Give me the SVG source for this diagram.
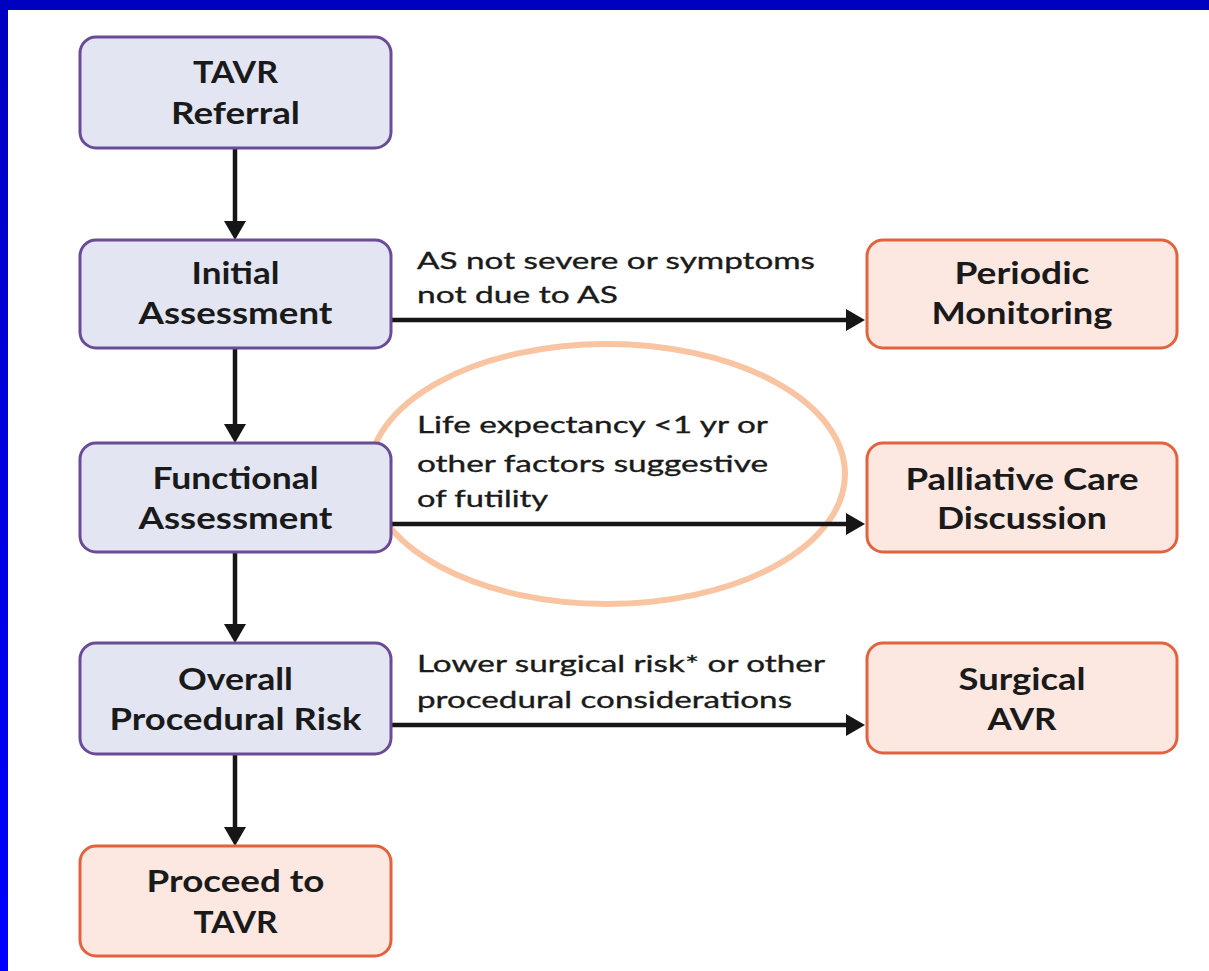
<svg xmlns="http://www.w3.org/2000/svg" width="1209" height="971" viewBox="0 0 1209 971">
<defs>
<linearGradient id="lb" x1="0" y1="0" x2="0" y2="1">
<stop offset="0" stop-color="#0000C0"/>
<stop offset="1" stop-color="#0000FF"/>
</linearGradient>
<marker id="ah" markerUnits="userSpaceOnUse" markerWidth="19" markerHeight="22" refX="1" refY="11" orient="auto">
<path d="M0,0 L19,11 L0,22 z" fill="#161616"/>
</marker>
<style>
.lnode{fill:#E3E6F2;stroke:#6B4A96;stroke-width:3}
.rnode{fill:#FDE8E1;stroke:#E2623E;stroke-width:3}
.nt{font-family:Lato,"Liberation Sans",sans-serif;font-weight:700;font-size:30px;fill:#1a1a1a;text-anchor:middle}
.lt{font-family:Lato,"Liberation Sans",sans-serif;font-weight:400;font-size:24px;fill:#1a1a1a;stroke:#1a1a1a;stroke-width:0.35}
.cn{stroke:#161616;stroke-width:4.5;fill:none}
</style>
</defs>
<rect x="0" y="0" width="1209" height="971" fill="#ffffff"/>
<rect x="0" y="0" width="1209" height="10" fill="#0000C0"/>
<rect x="0" y="0" width="8" height="971" fill="url(#lb)"/>

<ellipse id="highlight" cx="607" cy="474" rx="238" ry="130" fill="none" stroke="#F9C4A2" stroke-width="6"/>

<g id="connectors">
<line class="cn" x1="235" y1="149" x2="235" y2="222" marker-end="url(#ah)"/>
<line class="cn" x1="235" y1="349" x2="235" y2="425" marker-end="url(#ah)"/>
<line class="cn" x1="235" y1="553" x2="235" y2="625" marker-end="url(#ah)"/>
<line class="cn" x1="235" y1="755" x2="235" y2="828" marker-end="url(#ah)"/>
<line class="cn" x1="392" y1="320" x2="847" y2="320" marker-end="url(#ah)"/>
<line class="cn" x1="392" y1="524" x2="847" y2="524" marker-end="url(#ah)"/>
<line class="cn" x1="392" y1="725" x2="847" y2="725" marker-end="url(#ah)"/>
<text class="lt" x="417" y="269" textLength="398" lengthAdjust="spacingAndGlyphs">AS not severe or symptoms</text>
<text class="lt" x="417" y="303" textLength="201" lengthAdjust="spacingAndGlyphs">not due to AS</text>
<text class="lt" x="417" y="433" textLength="351" lengthAdjust="spacingAndGlyphs">Life expectancy &lt;1 yr or</text>
<text class="lt" x="417" y="472" textLength="351" lengthAdjust="spacingAndGlyphs">other factors suggestive</text>
<text class="lt" x="417" y="507" textLength="131" lengthAdjust="spacingAndGlyphs">of futility</text>
<text class="lt" x="417" y="672" textLength="408" lengthAdjust="spacingAndGlyphs">Lower surgical risk* or other</text>
<text class="lt" x="417" y="708" textLength="375" lengthAdjust="spacingAndGlyphs">procedural considerations</text>
</g>

<g id="tavr-referral">
<rect class="lnode" x="80" y="37" width="311" height="111" rx="16"/>
<text class="nt" x="235.5" y="83" textLength="85" lengthAdjust="spacingAndGlyphs">TAVR</text>
<text class="nt" x="235.5" y="124" textLength="129" lengthAdjust="spacingAndGlyphs">Referral</text>
</g>
<g id="initial-assessment">
<rect class="lnode" x="80" y="240" width="311" height="108" rx="16"/>
<text class="nt" x="235.5" y="284" textLength="88" lengthAdjust="spacingAndGlyphs">Initial</text>
<text class="nt" x="235.5" y="324" textLength="194" lengthAdjust="spacingAndGlyphs">Assessment</text>
</g>
<g id="functional-assessment">
<rect class="lnode" x="80" y="443" width="311" height="109" rx="16"/>
<text class="nt" x="235.5" y="489" textLength="166" lengthAdjust="spacingAndGlyphs">Functional</text>
<text class="nt" x="235.5" y="529" textLength="194" lengthAdjust="spacingAndGlyphs">Assessment</text>
</g>
<g id="overall-risk">
<rect class="lnode" x="80" y="643" width="311" height="111" rx="16"/>
<text class="nt" x="235.5" y="690" textLength="115" lengthAdjust="spacingAndGlyphs">Overall</text>
<text class="nt" x="235.5" y="730" textLength="252" lengthAdjust="spacingAndGlyphs">Procedural Risk</text>
</g>
<g id="proceed-tavr">
<rect class="rnode" x="80" y="846" width="311" height="110" rx="16"/>
<text class="nt" x="235.5" y="892" textLength="178" lengthAdjust="spacingAndGlyphs">Proceed to</text>
<text class="nt" x="235.5" y="933" textLength="84" lengthAdjust="spacingAndGlyphs">TAVR</text>
</g>
<g id="periodic-monitoring">
<rect class="rnode" x="867" y="240" width="310" height="108" rx="16"/>
<text class="nt" x="1022" y="284" textLength="135" lengthAdjust="spacingAndGlyphs">Periodic</text>
<text class="nt" x="1022" y="324" textLength="181" lengthAdjust="spacingAndGlyphs">Monitoring</text>
</g>
<g id="palliative-care">
<rect class="rnode" x="867" y="443" width="310" height="109" rx="16"/>
<text class="nt" x="1022" y="490" textLength="233" lengthAdjust="spacingAndGlyphs">Palliative Care</text>
<text class="nt" x="1022" y="529" textLength="170" lengthAdjust="spacingAndGlyphs">Discussion</text>
</g>
<g id="surgical-avr">
<rect class="rnode" x="867" y="643" width="310" height="110" rx="16"/>
<text class="nt" x="1022" y="690" textLength="127" lengthAdjust="spacingAndGlyphs">Surgical</text>
<text class="nt" x="1022" y="730" textLength="69" lengthAdjust="spacingAndGlyphs">AVR</text>
</g>
</svg>
